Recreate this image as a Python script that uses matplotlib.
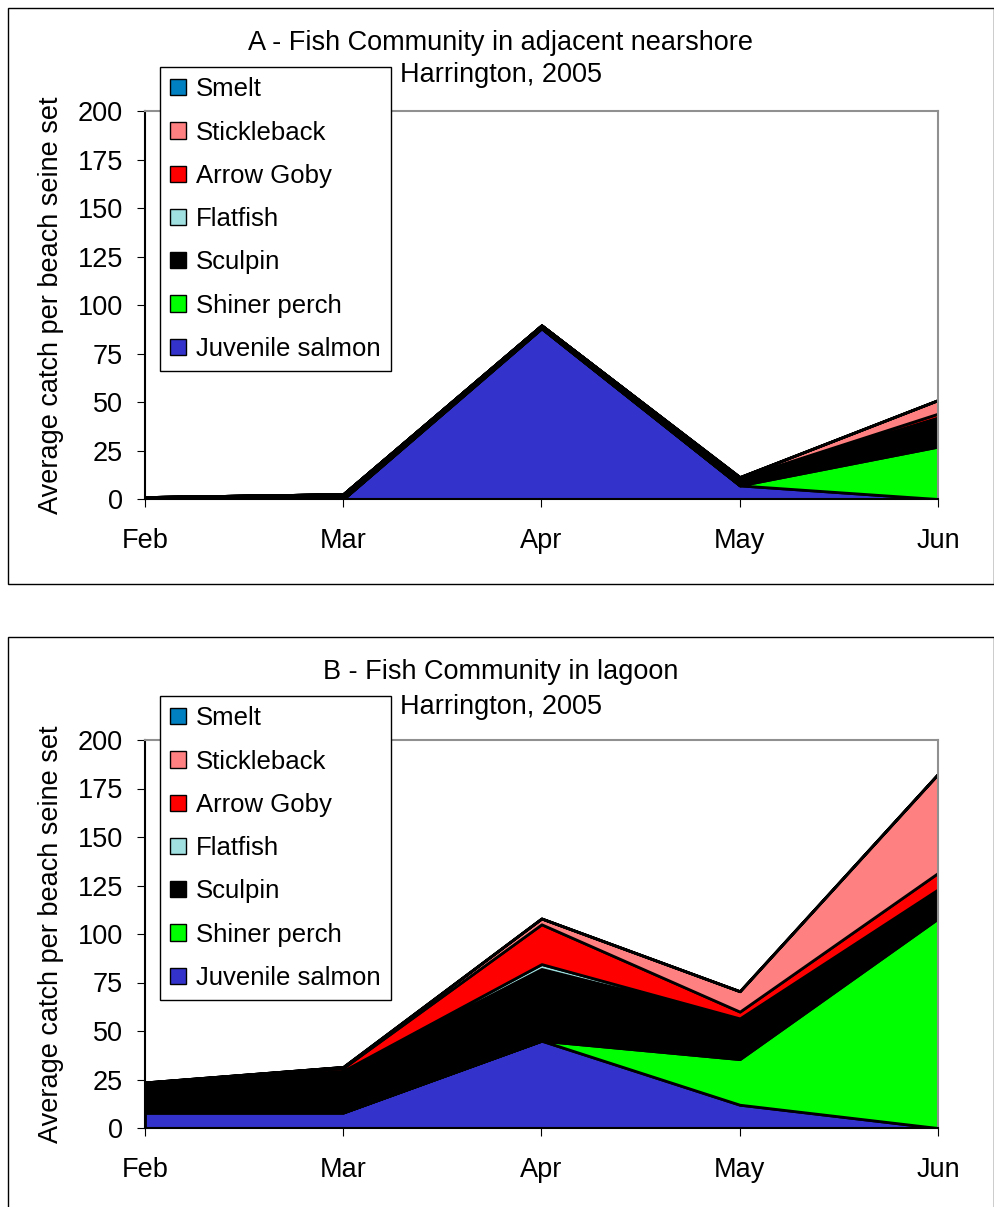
import numpy as np
import matplotlib.pyplot as plt
from matplotlib.patches import Patch, Rectangle

plt.rcParams['font.family'] = ['Liberation Sans', 'DejaVu Sans']

months = ['Feb', 'Mar', 'Apr', 'May', 'Jun']
species = ['Juvenile salmon', 'Shiner perch', 'Sculpin', 'Flatfish',
           'Arrow Goby', 'Stickleback', 'Smelt']
colors = ['#3333CC', '#00FF00', '#000000', '#A0E0E0', '#FF0000', '#FF8080', '#0080C0']

# panel A - adjacent nearshore
a_salmon = [0, 0, 88, 7, 0]
a_shiner = [0, 0, 0, 0, 27]
a_sculpin = [1, 2.5, 1.5, 4, 15]
a_flatfish = [0, 0, 0, 0, 0]
a_goby = [0, 0, 0, 0, 2]
a_stickle = [0, 0, 0, 0.3, 7]
a_smelt = [0, 0, 0, 0, 0]

# panel B - lagoon
b_salmon = [8, 8, 45, 12, 0]
b_shiner = [0, 0, 0, 23.5, 108]
b_sculpin = [14, 21.5, 37, 21, 15]
b_flatfish = [0, 0, 2.5, 0, 0]
b_goby = [1, 1.5, 20.5, 3.5, 8.5]
b_stickle = [0.5, 0.5, 3, 10.5, 51]
b_smelt = [0, 0, 0, 0, 0]

W, H = 995, 1207
FS = 19.5
fig = plt.figure(figsize=(W/100, H/100), dpi=100)

def rect(l, t, r, b):
    return [l/W, 1-b/H, (r-l)/W, (b-t)/H]

panels = [
    ('A - Fish Community in adjacent nearshore',
     [a_salmon, a_shiner, a_sculpin, a_flatfish, a_goby, a_stickle, a_smelt],
     (8, 8, 994, 584), (145, 111, 938, 499), 43, 75),
    ('B - Fish Community in lagoon',
     [b_salmon, b_shiner, b_sculpin, b_flatfish, b_goby, b_stickle, b_smelt],
     (8, 637, 994, 1220), (145, 740, 938, 1128), 672, 707),
]

x = np.arange(len(months))
for title, series, box, axbox, ty1, ty2 in panels:
    l, t, r, b = box
    fig.patches.append(Rectangle((l/W, 1-b/H), (r-l)/W, (b-t)/H, transform=fig.transFigure,
                                 fill=False, edgecolor='black', linewidth=1))
    ax = fig.add_axes(rect(*axbox))
    ax.stackplot(x, *series, colors=colors, edgecolor='black', linewidth=2)
    ax.set_xlim(0, 4)
    ax.set_ylim(0, 200)
    ax.set_xticks(x)
    ax.set_xticklabels(months)
    ax.set_yticks(np.arange(0, 201, 25))
    ax.tick_params(labelsize=FS, length=6, direction='out')
    ax.tick_params(axis='x', pad=15)
    ax.tick_params(axis='y', pad=10)
    for s in ['top', 'right']:
        ax.spines[s].set_color('#909090')
        ax.spines[s].set_linewidth(1.5)
    for s in ['left', 'bottom']:
        ax.spines[s].set_color('black')
        ax.spines[s].set_linewidth(1.5)
    ax.set_ylabel('Average catch per beach seine set', fontsize=FS, labelpad=10)
    cx = (l + r) / 2 / W
    fig.text(cx, 1-ty1/H, title, ha='center', va='center', fontsize=FS)
    fig.text(cx, 1-ty2/H, 'Harrington, 2005', ha='center', va='center', fontsize=FS)

    handles = [Patch(facecolor=c, edgecolor='black', linewidth=1) for c in colors][::-1]
    labels = species[::-1]
    fig.legend(handles, labels, loc='upper left',
               bbox_to_anchor=(160/W, 1-(axbox[1]-44)/H), fontsize=18.5,
               frameon=True, fancybox=False, edgecolor='black', framealpha=1,
               handlelength=0.6, handleheight=0.6, handletextpad=0.4,
               labelspacing=0.75, borderpad=0.4, borderaxespad=0)

fig.savefig('out.png', dpi=100)
